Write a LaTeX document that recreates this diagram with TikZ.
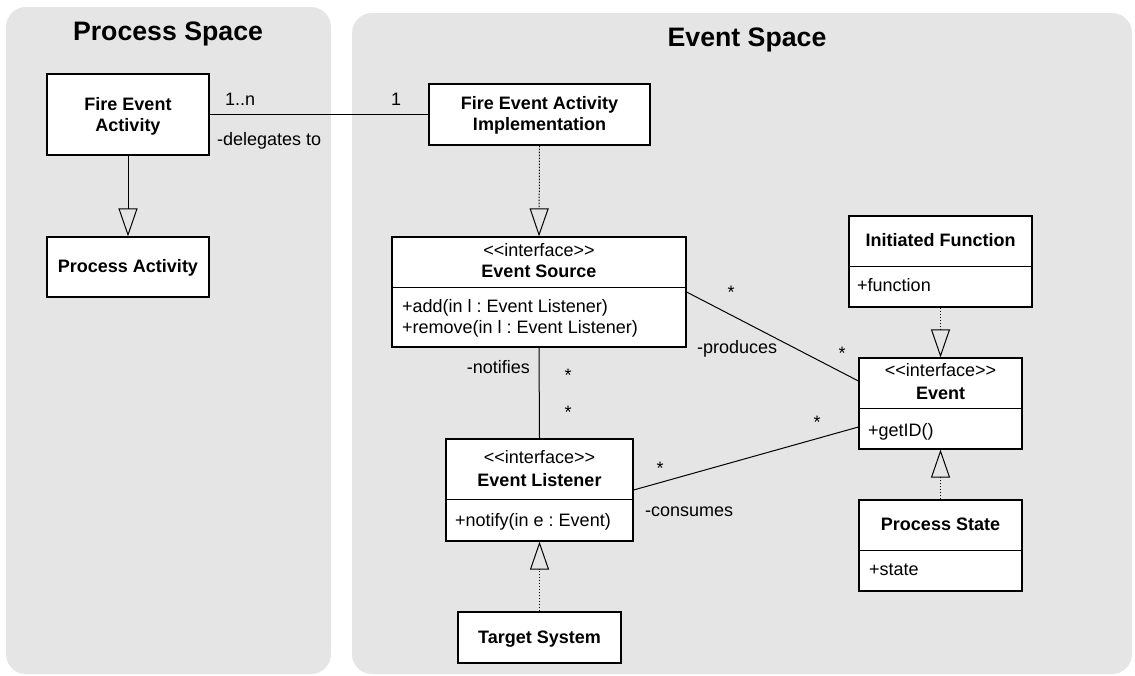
\documentclass[tikz,border=0pt]{standalone}
\usepackage{fontspec}
\setmainfont{Liberation Sans}
\usetikzlibrary{arrows.meta}
\definecolor{panelgray}{RGB}{229,229,229}
\frenchspacing
\begin{document}
\begin{tikzpicture}[x=1pt,y=-1pt,
  panel/.style={fill=panelgray, draw=none, rounded corners=20pt},
  umlbox/.style={draw=black, fill=white, line width=1.2pt, inner sep=0pt},
  txt/.style={inner sep=0pt, anchor=base, font=\fontsize{18}{21}\selectfont},
  boldtxt/.style={inner sep=0pt, anchor=base, font=\fontsize{18}{21}\selectfont\bfseries},
  titletxt/.style={inner sep=0pt, anchor=base, font=\fontsize{26.7}{30}\selectfont\bfseries},
  assoc/.style={line width=1pt},
  gen/.style={line width=1pt, -{Triangle[open,length=28pt,width=19pt]}},
  realize/.style={gen, dash pattern=on 1.5pt off 1.5pt},
]
\useasboundingbox (0,0) rectangle (1135,675);

% the two swim-lane panels
\fill[panel] (6,7) rectangle (331,674);
\fill[panel] (352,13) rectangle (1132,674);
\node[titletxt] (ttlproc) at (168,40.5) {Process Space};
\node[titletxt] (ttlevent) at (747,46.5) {Event Space};

% class boxes
\node[umlbox, minimum width=162pt, minimum height=81pt] (fea) at (128,114.5) {};
\node[umlbox, minimum width=162pt, minimum height=60pt] (pa) at (128,267) {};
\node[umlbox, minimum width=221pt, minimum height=61pt] (feai) at (539.5,114.5) {};
\node[umlbox, minimum width=294pt, minimum height=110pt] (es) at (539,292) {};
\node[umlbox, minimum width=187pt, minimum height=102pt] (el) at (539.5,490) {};
\node[umlbox, minimum width=163pt, minimum height=51pt] (ts) at (539.5,637.5) {};
\node[umlbox, minimum width=183pt, minimum height=91pt] (inf) at (940.5,261.5) {};
\node[umlbox, minimum width=163pt, minimum height=91pt] (ev) at (940.5,403.5) {};
\node[umlbox, minimum width=163pt, minimum height=91pt] (ps) at (940.5,545.5) {};

% compartment dividers
\draw[line width=1.2pt] ([yshift=-51pt]es.north west) -- ([yshift=-51pt]es.north east);
\draw[line width=1.2pt] ([yshift=-61pt]el.north west) -- ([yshift=-61pt]el.north east);
\draw[line width=1.2pt] ([yshift=-51pt]inf.north west) -- ([yshift=-51pt]inf.north east);
\draw[line width=1.2pt] ([yshift=-51pt]ev.north west) -- ([yshift=-51pt]ev.north east);
\draw[line width=1.2pt] ([yshift=-51pt]ps.north west) -- ([yshift=-51pt]ps.north east);

% class texts
\node[boldtxt] (fea1) at (128,110) {Fire Event};
\node[boldtxt] (fea2) at (128,131) {Activity};
\node[boldtxt] (pa1) at (128,272.2) {Process Activity};
\node[boldtxt] (feai1) at (539.5,109.5) {Fire Event Activity};
\node[boldtxt] (feai2) at (539.5,130.3) {Implementation};
\node[txt] (es1) at (539,256) {<{}<interface>{}>};
\node[boldtxt] (es2) at (539,277.3) {Event Source};
\node[txt, anchor=base west] (es3) at (402,312.5) {+add(in l : Event Listener)};
\node[txt, anchor=base west] (es4) at (402,333.5) {+remove(in l : Event Listener)};
\node[txt] (el1) at (539.5,463.3) {<{}<interface>{}>};
\node[boldtxt] (el2) at (539.5,486) {Event Listener};
\node[txt, anchor=base west] (el3) at (455,526) {+notify(in e : Event)};
\node[boldtxt] (ts1) at (539.5,643) {Target System};
\node[boldtxt] (inf1) at (940.5,246.3) {Initiated Function};
\node[txt, anchor=base west] (inf2) at (857,291.7) {+function};
\node[txt] (ev1) at (940.5,376.7) {<{}<interface>{}>};
\node[boldtxt] (ev2) at (940.5,399.7) {Event};
\node[txt, anchor=base west] (ev3) at (868,436) {+getID()};
\node[boldtxt] (ps1) at (940.5,530.3) {Process State};
\node[txt, anchor=base west] (ps2) at (869,575) {+state};

% associations
\draw[assoc] (fea.east) -- (feai.west);
\draw[assoc] (es.south) -- (el.north);
\draw[assoc] (es.east) -- ([yshift=22.5pt]ev.west);
\draw[assoc] (el.east) -- ([yshift=-23.5pt]ev.west);

% generalisation and realisations
\draw[gen] (fea.south) -- (pa.north);
\draw[realize] (feai.south) -- (es.north);
\draw[realize] (ts.north) -- (el.south);
\draw[realize] (inf.south) -- (ev.north);
\draw[realize] (ps.north) -- (ev.south);

% role names and multiplicities
\node[txt, anchor=base west] (m1n) at (225,105) {1..n};
\node[txt, anchor=base west] (m1) at (391,105) {1};
\node[txt, anchor=base west] (rdel) at (217,145.5) {-delegates to};
\node[txt, anchor=base east] (rnot) at (530,373.5) {-notifies};
\node[txt] (mnot1) at (568,381) {*};
\node[txt] (mnot2) at (568,418) {*};
\node[txt, anchor=base west] (rprod) at (697,353) {-produces};
\node[txt] (mprod1) at (731,298) {*};
\node[txt] (mprod2) at (842,359) {*};
\node[txt, anchor=base west] (rcons) at (645,516) {-consumes};
\node[txt] (mcons1) at (660,474) {*};
\node[txt] (mcons2) at (817,428) {*};
\end{tikzpicture}
\end{document}
